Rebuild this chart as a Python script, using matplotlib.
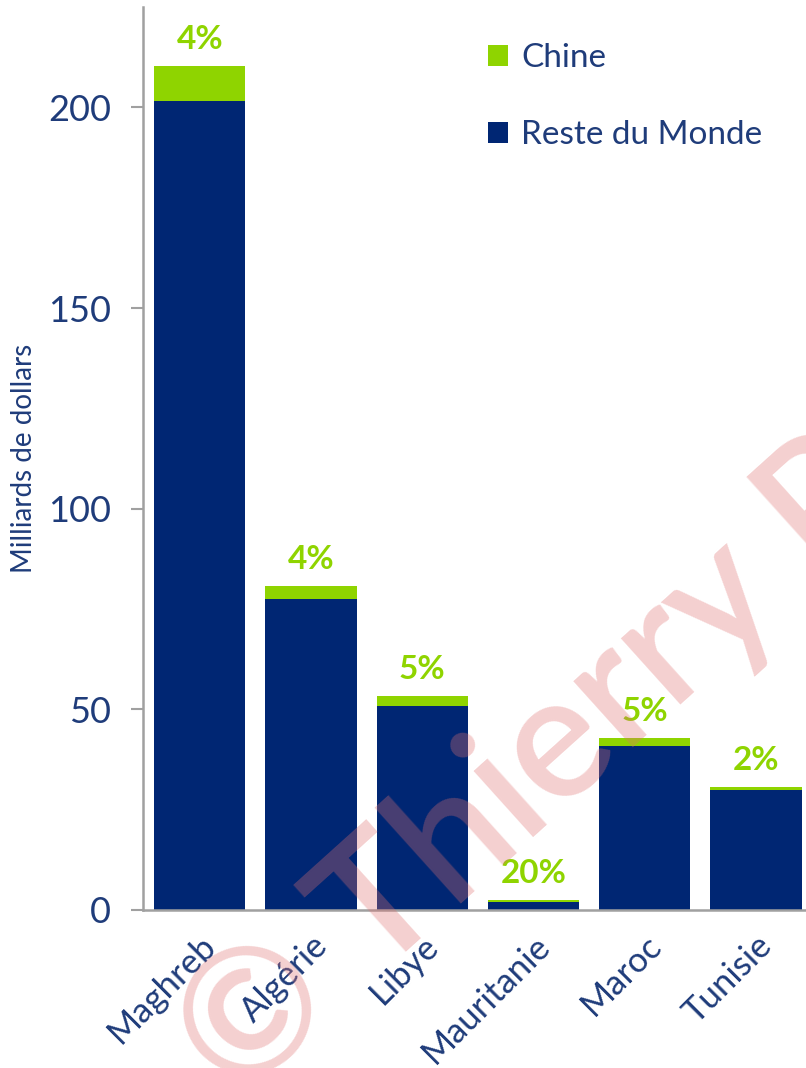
import matplotlib.pyplot as plt
import numpy as np

# Données (milliards de dollars)
pays = ['Maghreb', 'Algérie', 'Libye', 'Mauritanie', 'Maroc', 'Tunisie']
reste_monde = [201.7, 77.5, 50.8, 1.9, 40.8, 29.9]
chine = [8.5, 3.2, 2.5, 0.6, 2.0, 0.7]
parts = ['4%', '4%', '5%', '20%', '5%', '2%']

vert = '#8FD400'
marine = '#002673'
texte = '#1F3C7A'

plt.rcParams['font.family'] = ['Lato', 'DejaVu Sans']

fig = plt.figure(figsize=(8.06, 10.68), dpi=100)
ax = fig.add_axes([0.1774, 0.148, 0.8226, 0.8454])

x = np.arange(len(pays))
ax.bar(x, reste_monde, width=0.82, color=marine, label='Reste du Monde', zorder=2)
ax.bar(x, chine, width=0.82, bottom=reste_monde, color=vert, label='Chine', zorder=2)

# Etiquettes de pourcentage au-dessus des barres
for i in range(len(pays)):
    total = reste_monde[i] + chine[i]
    ax.text(x[i], total + 3, parts[i], ha='center', va='bottom',
            color=vert, fontsize=24, fontweight='bold', zorder=3)

ax.set_xlim(-0.51, 5.45)
ax.set_ylim(0, 225)
ax.set_yticks([0, 50, 100, 150, 200])
ax.set_xticks(x)
ax.set_xticklabels(pays, rotation=45, ha='right', rotation_mode='anchor')
ax.tick_params(axis='y', colors='#A0A0A0', length=9, width=1.5, labelsize=26,
               labelcolor=texte, pad=14)
ax.tick_params(axis='x', length=0, labelsize=25, labelcolor=texte, pad=14)
ax.set_ylabel('Milliards de dollars', color=texte, fontsize=20, labelpad=8)

for s in ['top', 'right']:
    ax.spines[s].set_visible(False)
for s in ['left', 'bottom']:
    ax.spines[s].set_color('#A0A0A0')
    ax.spines[s].set_linewidth(1.8)

handles, labels = ax.get_legend_handles_labels()
leg = ax.legend(handles[::-1], labels[::-1], loc='upper left',
                bbox_to_anchor=(0.475, 0.993), frameon=False, fontsize=24,
                handlelength=0.6, handleheight=0.6, handletextpad=0.4,
                labelspacing=1.4)
for t in leg.get_texts():
    t.set_color(texte)

# Filigrane
fig.text(0.2935, -0.0337, '© Thierry P', rotation=42, rotation_mode='anchor',
         fontsize=125, fontweight='semibold', color='#E07070', alpha=0.33,
         ha='left', va='baseline', zorder=10)

plt.savefig('out.png', dpi=100)
